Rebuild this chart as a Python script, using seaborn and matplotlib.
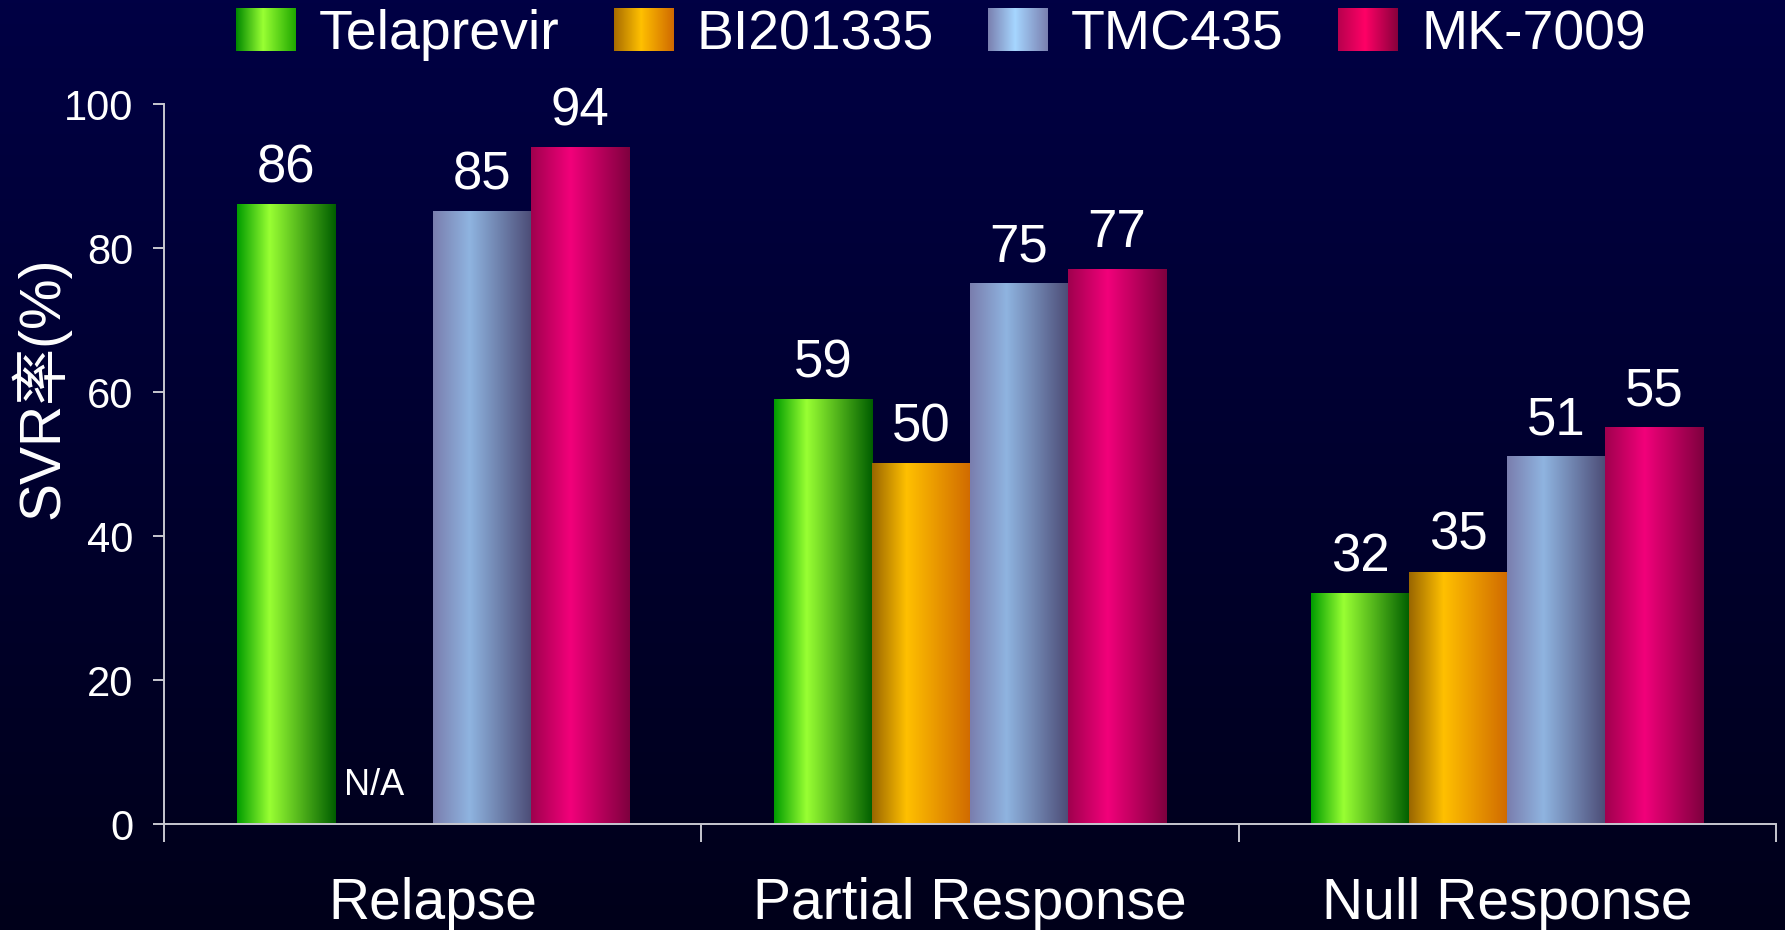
import numpy as np
import pandas as pd
import matplotlib
matplotlib.use("Agg")
import matplotlib.pyplot as plt
import seaborn as sns
from matplotlib.colors import LinearSegmentedColormap
from matplotlib.legend_handler import HandlerBase
from matplotlib.image import BboxImage
from matplotlib.transforms import Bbox, TransformedBbox
from matplotlib.patches import Patch

# ---- data -------------------------------------------------------------
categories = ["Relapse", "Partial Response", "Null Response"]
drugs = ["Telaprevir", "BI201335", "TMC435", "MK-7009"]
telaprevir = [86, 59, 32]
bi201335 = [np.nan, 50, 35]
tmc435 = [85, 75, 51]
mk7009 = [94, 77, 55]
missing_label = "N/A"
y_label = "SVR率(%)"
y_ticks = [0, 20, 40, 60, 80, 100]

series = dict(zip(drugs, [telaprevir, bi201335, tmc435, mk7009]))
df = pd.DataFrame(
    [(cat, drug, vals[i]) for drug, vals in series.items() for i, cat in enumerate(categories)],
    columns=["group", "drug", "svr"],
)

# ---- style ------------------------------------------------------------
bar_stops = {
    "Telaprevir": [(0.0, "#009c00"), (0.33, "#99ff33"), (1.0, "#005e00")],
    "BI201335": [(0.0, "#9a6600"), (0.35, "#ffc000"), (1.0, "#d06a00")],
    "TMC435": [(0.0, "#7a7eae"), (0.37, "#8fb4e0"), (1.0, "#4c4c76")],
    "MK-7009": [(0.0, "#a0004e"), (0.40, "#f2007a"), (1.0, "#7e003e")],
}
legend_stops = {
    "Telaprevir": [(0.0, "#008800"), (0.45, "#99ff33"), (1.0, "#20a800")],
    "BI201335": [(0.0, "#a86c00"), (0.45, "#ffc000"), (1.0, "#d06a00")],
    "TMC435": [(0.0, "#7a80b0"), (0.45, "#a6d6ff"), (1.0, "#7a80b0")],
    "MK-7009": [(0.0, "#b8004e"), (0.45, "#ff0066"), (1.0, "#88003c")],
}
peak_colors = ["#99ff33", "#ffc000", "#8fb4e0", "#f2007a"]
axis_color = "#c8c8d0"


def make_cmap(name, stops):
    return LinearSegmentedColormap.from_list(name, stops)


sns.set_theme(style="white")
plt.rcParams["font.family"] = ["Liberation Sans", "Noto Sans CJK SC", "DejaVu Sans"]

W, H = 1785, 930
fig = plt.figure(figsize=(W / 100, H / 100), dpi=100)

# dark navy backdrop, fading towards black at the bottom
bg = fig.add_axes([0, 0, 1, 1], zorder=-10)
bg.axis("off")
bg.imshow(np.linspace(0, 1, 256)[:, None], aspect="auto", origin="upper",
          cmap=make_cmap("bg", ["#000044", "#00001a"]), extent=[0, 1, 0, 1])

ax = fig.add_axes([164 / W, 1 - 824 / H, (1776 - 164) / W, (824 - 104) / H])
ax.patch.set_alpha(0)

sns.barplot(data=df, x="group", y="svr", hue="drug", order=categories,
            hue_order=drugs, palette=peak_colors, width=0.73, saturation=1,
            linewidth=0, legend=False, ax=ax)

# shade every bar with a horizontal cylinder-like gradient
ramp = np.linspace(0, 1, 256)[None, :]
for drug, cont in zip(drugs, ax.containers):
    cmap = make_cmap(drug, bar_stops[drug])
    rgb = cmap(ramp)
    for bar in cont:
        h = bar.get_height()
        if not np.isfinite(h):
            continue
        x0, w = bar.get_x(), bar.get_width()
        ax.imshow(rgb, extent=[x0, x0 + w, 0, h], aspect="auto",
                  interpolation="bilinear", zorder=bar.get_zorder() + 0.5)
    labels = [f"{b.get_height():.0f}" if np.isfinite(b.get_height()) else "" for b in cont]
    ax.bar_label(cont, labels=labels, padding=8, fontsize=38, color="white")

# marker for the missing BI201335 relapse value
ref_bar = ax.containers[0][0]
ax.text(ref_bar.get_x() + 1.4 * ref_bar.get_width(), 4, missing_label,
        ha="center", va="baseline", fontsize=26, color="white")

ax.set_xlim(-0.5, len(categories) - 0.5)
ax.set_ylim(0, 100)
ax.set_yticks(y_ticks)
ax.set_xticks(np.arange(len(categories) + 1) - 0.5, minor=True)
ax.set_xlabel("")
ax.set_ylabel(y_label, fontsize=41, color="white")
ax.yaxis.set_label_coords(-0.077, 0.606)
ax.yaxis.label.set_va("center")

for side in ("top", "right"):
    ax.spines[side].set_visible(False)
for side in ("left", "bottom"):
    ax.spines[side].set_color(axis_color)
    ax.spines[side].set_linewidth(1.4)
    ax.spines[side].set_zorder(5)

ax.tick_params(axis="y", length=8, width=1.4, color=axis_color,
               labelcolor="white", labelsize=30, pad=14, left=True)
ax.tick_params(axis="x", which="major", length=0, labelcolor="white",
               labelsize=41, pad=38)
ax.tick_params(axis="x", which="minor", length=13, width=1.4,
               color=axis_color, bottom=True)
ax.grid(False)


class GradientHandler(HandlerBase):
    def __init__(self, cmap):
        super().__init__()
        self.cmap = cmap

    def create_artists(self, legend, orig_handle, xdescent, ydescent,
                       width, height, fontsize, trans):
        box = TransformedBbox(Bbox.from_bounds(-xdescent, -ydescent, width, height), trans)
        img = BboxImage(box, interpolation="bilinear")
        img.set_data(self.cmap(np.linspace(0, 1, 128)[None, :]))
        return [img]


handles = [Patch(label=d) for d in drugs]
handler_map = {h: GradientHandler(make_cmap("lg" + d, legend_stops[d]))
               for h, d in zip(handles, drugs)}
fs = 40
em = fs * 100 / 72
fig.legend(handles, drugs, handler_map=handler_map, loc="upper left",
           bbox_to_anchor=(236 / W, 1 - 9 / H), ncol=4, frameon=False, fontsize=fs,
           labelcolor="white", handlelength=60 / em, handleheight=44 / em,
           handletextpad=23 / em, columnspacing=54 / em, borderpad=0,
           borderaxespad=0)

fig.savefig("out.png", dpi=100)
